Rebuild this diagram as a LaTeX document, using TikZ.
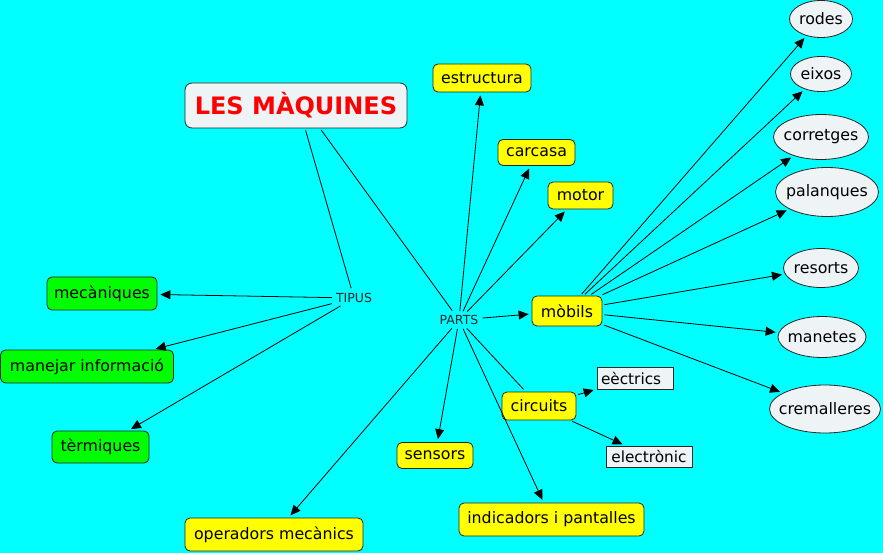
\documentclass[tikz,border=0pt]{standalone}
\usepackage{fontspec}
\setmainfont{DejaVu Sans}
\usetikzlibrary{arrows.meta,shapes.geometric}
\definecolor{bgcyan}{HTML}{00FFFF}
\definecolor{yfill}{HTML}{FFFF00}
\definecolor{gfill}{HTML}{00FF00}
\definecolor{pale}{HTML}{EEF3F5}
\definecolor{titlered}{HTML}{FF0000}
\tikzset{
  basebox/.style={draw=black!85, rounded corners=5pt, inner sep=0pt, line width=0.8pt,
    font=\fontsize{15.8}{18}\selectfont},
  ybox/.style={basebox, fill=yfill},
  gbox/.style={basebox, fill=gfill},
  titlebox/.style={draw=black!85, rounded corners=7pt, inner sep=0pt, line width=0.8pt, fill=pale,
    text=titlered, font=\fontsize{24}{28}\selectfont\bfseries},
  ellbox/.style={ellipse, draw=black!85, fill=pale, inner sep=0pt, line width=0.8pt},
  elltext/.style={inner sep=0pt, font=\fontsize{15.8}{18}\selectfont},
  rbox/.style={rectangle, draw=black!85, fill=pale, inner sep=0pt, line width=0.8pt,
    font=\fontsize{15.3}{18}\selectfont},
  lbl/.style={font=\fontsize{12.5}{14}\selectfont, inner sep=2pt, text=black!85},
  conn/.style={line width=0.8pt, shorten <=2pt, shorten >=3pt},
  arr/.style={conn, -{Triangle[length=10pt,width=9pt]}}
}
\begin{document}
\begin{tikzpicture}[x=1pt,y=-1pt]
\useasboundingbox (0,0) rectangle (883,553);
\fill[bgcyan] (0,0) rectangle (883,553);

% main
\node[titlebox, minimum width=222, minimum height=45] (maq) at (296,105.5) {LES MÀQUINES};
\node[lbl] (tipus) at (354,298) {TIPUS};
\node[lbl] (parts) at (459,320) {PARTS};

% tipus
\node[gbox, minimum width=110, minimum height=33] (mec) at (102,293.5) {mecàniques};
\node[gbox, minimum width=173, minimum height=33] (man) at (87,366.5) {manejar informació};
\node[gbox, minimum width=97, minimum height=32] (ter) at (100.5,447) {tèrmiques};

% parts
\node[ybox, minimum width=98, minimum height=28] (est) at (482,78) {estructura};
\node[ybox, minimum width=77, minimum height=26] (car) at (536.5,152.5) {carcasa};
\node[ybox, minimum width=65, minimum height=27] (mot) at (580.5,195.5) {motor};
\node[ybox, minimum width=70, minimum height=30] (mob) at (567,311) {mòbils};
\node[ybox, minimum width=74, minimum height=28] (cir) at (539,406) {circuits};
\node[ybox, minimum width=76, minimum height=26] (sen) at (435,455.5) {sensors};
\node[ybox, minimum width=185, minimum height=33] (ind) at (551.5,519.5) {indicadors i pantalles};
\node[ybox, minimum width=178, minimum height=33] (ope) at (274,534.5) {operadors mecànics};

% circuits
\node[rbox, minimum height=22, text width=68pt, inner xsep=4pt, align=left] (eec) at (635,378) {eèctrics};
\node[rbox, minimum width=86, minimum height=21] (ele) at (649,456.5) {electrònic};

% mobils
\node[ellbox, minimum width=63, minimum height=37] (rod) at (821,19) {};
\node[elltext] (rodt) at (rod.center) {rodes};
\node[ellbox, minimum width=61, minimum height=35] (eix) at (821,74) {};
\node[elltext] (eixt) at (eix.center) {eixos};
\node[ellbox, minimum width=95, minimum height=45] (cor) at (821,137) {};
\node[elltext] (cort) at (cor.center) {corretges};
\node[ellbox, minimum width=103, minimum height=49] (pal) at (827,192) {};
\node[elltext] (palt) at (pal.center) {palanques};
\node[ellbox, minimum width=75, minimum height=39] (res) at (821,268) {};
\node[elltext] (rest) at (res.center) {resorts};
\node[ellbox, minimum width=88, minimum height=41] (mnt) at (822,337) {};
\node[elltext] (mntt) at (mnt.center) {manetes};
\node[ellbox, minimum width=111, minimum height=48] (cre) at (825,409) {};
\node[elltext] (cret) at (cre.center) {cremalleres};

% connectors
\draw[conn] ([xshift=9pt]maq.south) -- (tipus);
\draw[conn] ([xshift=24pt]maq.south) -- (parts);
\draw[arr] (tipus) -- (mec);
\draw[arr] (tipus) -- (man);
\draw[arr] (tipus) -- (ter);
\draw[arr] (parts) -- (est);
\draw[arr] (parts) -- (car);
\draw[arr] (parts) -- (mot);
\draw[arr] (parts) -- (mob);
\draw[conn] (parts) -- (cir);
\draw[arr] (parts) -- (sen);
\draw[arr] (parts) -- (ind);
\draw[arr] (parts) -- (ope);
\draw[arr] (cir) -- (eec);
\draw[arr] (cir) -- (ele);
\foreach \t in {rod,eix,cor,pal,res,mnt,cre}
  \draw[arr] (mob) -- (\t);
\end{tikzpicture}
\end{document}
